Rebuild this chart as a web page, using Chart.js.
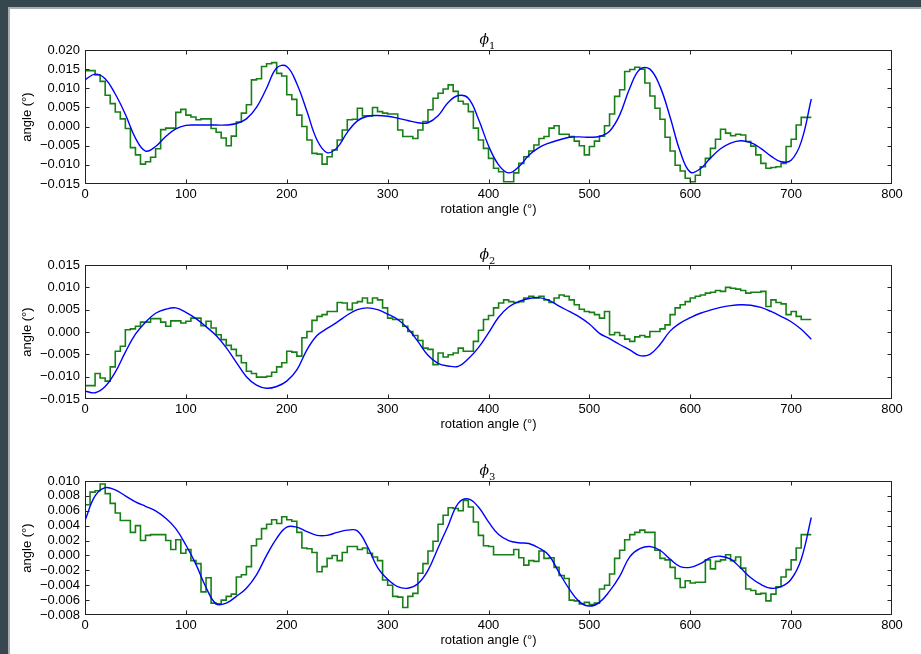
<!DOCTYPE html>
<html>
<head>
<meta charset="utf-8">
<script src="https://cdn.jsdelivr.net/npm/chart.js@4.4.0/dist/chart.umd.min.js"></script>
<style>
  body { margin: 0; background: #37474f; width: 921px; height: 654px; overflow: hidden; position: relative; }
  .sheet { position: absolute; left: 8px; top: 7px; right: 0; bottom: 0; background: #fff; border-left: 2px solid #a9aeb1; border-top: 2px solid #a9aeb1; }
  canvas { position: absolute; left: 0; }
</style>
</head>
<body>
<div class="sheet"></div>
<canvas id="phi1" width="921" height="220" style="top:0px"></canvas>
<canvas id="phi2" width="921" height="220" style="top:215px"></canvas>
<canvas id="phi3" width="921" height="220" style="top:431px"></canvas>
<script>
// rotation angles (deg) of the measured steps and of the fitted curve
const stepAngles = [0,5,10,15,20,25,30,35,40,45,50,55,60,65,70,75,80,85,90,95,
  100,105,110,115,120,125,130,135,140,145,150,155,160,165,170,175,180,185,190,195,
  200,205,210,215,220,225,230,235,240,245,250,255,260,265,270,275,280,285,290,295,
  300,305,310,315,320,325,330,335,340,345,350,355,360,365,370,375,380,385,390,395,
  400,405,410,415,420,425,430,435,440,445,450,455,460,465,470,475,480,485,490,495,
  500,505,510,515,520,525,530,535,540,545,550,555,560,565,570,575,580,585,590,595,
  600,605,610,615,620,625,630,635,640,645,650,655,660,665,670,675,680,685,690,695,
  700,705,710,715,720];
const fitAngles = [0,10,20,30,40,50,60,70,80,90,100,110,120,130,140,150,160,170,180,190,
  200,210,220,230,240,250,260,270,280,290,300,310,320,330,340,350,360,370,380,390,
  400,410,420,430,440,450,460,470,480,490,500,510,520,530,540,550,560,570,580,590,
  600,610,620,630,640,650,660,670,680,690,700,710,720];

// phi1
const phi1Steps = [0.0150,0.0146,0.0146,0.0135,0.0118,0.0082,0.0060,0.0038,0.0020,-0.0005,
  -0.0055,-0.0074,-0.0098,-0.0092,-0.0080,-0.0058,-0.0008,-0.0004,-0.0004,0.0037,
  0.0045,0.0030,0.0025,0.0018,0.0020,0.0020,-0.0005,-0.0015,-0.0030,-0.0050,
  -0.0025,0.0012,0.0035,0.0057,0.0122,0.0125,0.0157,0.0164,0.0167,0.0139,
  0.0132,0.0083,0.0071,0.0030,0.0000,-0.0035,-0.0070,-0.0072,-0.0098,-0.0079,
  -0.0061,-0.0035,-0.0009,0.0018,0.0019,0.0048,0.0028,0.0028,0.0050,0.0039,
  0.0035,0.0033,0.0033,-0.0009,-0.0026,-0.0026,-0.0031,-0.0009,0.0013,0.0044,
  0.0074,0.0087,0.0098,0.0109,0.0092,0.0066,0.0059,0.0039,-0.0004,-0.0035,
  -0.0057,-0.0083,-0.0109,-0.0118,-0.0144,-0.0144,-0.0121,-0.0096,-0.0079,-0.0064,
  -0.0048,-0.0031,-0.0026,-0.0004,0.0002,-0.0020,-0.0020,-0.0026,-0.0038,-0.0050,
  -0.0074,-0.0052,-0.0038,-0.0025,0.0002,0.0033,0.0079,0.0096,0.0144,0.0149,
  0.0155,0.0150,0.0114,0.0080,0.0048,0.0019,-0.0028,-0.0064,-0.0101,-0.0116,
  -0.0135,-0.0144,-0.0127,-0.0105,-0.0083,-0.0057,-0.0033,-0.0007,-0.0017,-0.0024,
  -0.0020,-0.0022,-0.0039,-0.0051,-0.0074,-0.0096,-0.0109,-0.0107,-0.0105,-0.0096,
  -0.0052,-0.0033,0.0004,0.0024,0.0024];
const phi1Fit = [0.0122,0.0137,0.0125,0.0085,0.0032,-0.0030,-0.0064,-0.0052,-0.0026,-0.0006,
  0.0003,0.0004,0.0004,0.0004,0.0004,0.0008,0.0020,0.0050,0.0100,0.0153,
  0.0157,0.0112,0.0040,-0.0035,-0.0068,-0.0055,-0.0015,0.0015,0.0027,0.0029,
  0.0027,0.0022,0.0016,0.0010,0.0010,0.0028,0.0063,0.0081,0.0074,0.0020,
  -0.0050,-0.0100,-0.0121,-0.0105,-0.0075,-0.0055,-0.0043,-0.0035,-0.0028,-0.0027,
  -0.0028,-0.0026,-0.0012,0.0030,0.0100,0.0150,0.0150,0.0105,0.0025,-0.0065,
  -0.0119,-0.0110,-0.0082,-0.0058,-0.0043,-0.0037,-0.0042,-0.0057,-0.0077,-0.0092,
  -0.0088,-0.0040,0.0072];

// phi2
const phi2Steps = [-0.0120,-0.0120,-0.0120,-0.0093,-0.0103,-0.0110,-0.0078,-0.0043,-0.0032,0.0005,
  0.0007,0.0013,0.0022,0.0022,0.0030,0.0030,0.0022,0.0013,0.0025,0.0025,
  0.0020,0.0024,0.0031,0.0031,0.0014,0.0024,0.0009,-0.0006,-0.0017,-0.0030,
  -0.0039,-0.0053,-0.0069,-0.0088,-0.0093,-0.0101,-0.0101,-0.0099,-0.0090,-0.0078,
  -0.0069,-0.0043,-0.0045,-0.0054,-0.0013,0.0001,0.0026,0.0035,0.0039,0.0046,
  0.0046,0.0066,0.0065,0.0050,0.0065,0.0068,0.0076,0.0065,0.0076,0.0072,
  0.0054,0.0031,0.0028,0.0028,0.0013,0.0001,-0.0008,-0.0019,-0.0036,-0.0039,
  -0.0073,-0.0047,-0.0056,-0.0051,-0.0047,-0.0036,-0.0043,-0.0043,-0.0021,0.0004,
  0.0028,0.0037,0.0054,0.0065,0.0072,0.0068,0.0066,0.0068,0.0076,0.0080,
  0.0076,0.0080,0.0072,0.0066,0.0076,0.0083,0.0080,0.0072,0.0061,0.0051,
  0.0046,0.0044,0.0039,0.0031,0.0046,-0.0006,-0.0001,-0.0008,-0.0016,-0.0021,
  -0.0011,-0.0008,-0.0011,0.0001,0.0001,0.0007,0.0016,0.0039,0.0054,0.0061,
  0.0068,0.0076,0.0080,0.0083,0.0087,0.0089,0.0093,0.0091,0.0100,0.0098,
  0.0096,0.0093,0.0087,0.0089,0.0089,0.0091,0.0057,0.0072,0.0066,0.0063,
  0.0039,0.0046,0.0035,0.0028,0.0028];
const phi2Fit = [-0.0132,-0.0136,-0.0122,-0.0090,-0.0045,-0.0005,0.0022,0.0042,0.0051,0.0054,
  0.0044,0.0030,0.0012,-0.0008,-0.0035,-0.0068,-0.0100,-0.0119,-0.0126,-0.0122,
  -0.0110,-0.0085,-0.0040,-0.0008,0.0008,0.0022,0.0038,0.0050,0.0054,0.0050,
  0.0040,0.0028,0.0008,-0.0021,-0.0052,-0.0070,-0.0076,-0.0077,-0.0060,-0.0035,
  -0.0002,0.0033,0.0056,0.0068,0.0075,0.0077,0.0071,0.0058,0.0046,0.0034,
  0.0018,-0.0003,-0.0015,-0.0028,-0.0040,-0.0053,-0.0050,-0.0028,0.0002,0.0020,
  0.0032,0.0042,0.0049,0.0055,0.0059,0.0061,0.0060,0.0055,0.0046,0.0035,
  0.0023,0.0006,-0.0016];

// phi3
const phi3Steps = [0.0056,0.0068,0.0085,0.0087,0.0096,0.0083,0.0070,0.0057,0.0047,0.0047,
  0.0031,0.0040,0.0020,0.0027,0.0028,0.0028,0.0028,0.0020,0.0008,0.0021,
  0.0003,0.0008,-0.0007,-0.0011,-0.0049,-0.0030,-0.0064,-0.0065,-0.0060,-0.0055,
  -0.0052,-0.0029,-0.0026,-0.0015,0.0013,0.0022,0.0036,0.0042,0.0048,0.0043,
  0.0052,0.0048,0.0046,0.0031,0.0010,0.0009,0.0004,-0.0022,-0.0015,-0.0004,
  0.0000,-0.0007,0.0004,0.0012,0.0012,0.0008,0.0010,0.0003,-0.0002,-0.0007,
  -0.0033,-0.0040,-0.0055,-0.0056,-0.0070,-0.0055,-0.0051,-0.0024,-0.0011,0.0006,
  0.0019,0.0042,0.0054,0.0064,0.0063,0.0060,0.0074,0.0065,0.0045,0.0027,
  0.0013,0.0012,0.0001,0.0001,0.0001,0.0001,0.0008,-0.0003,-0.0013,-0.0007,
  -0.0008,0.0006,-0.0004,-0.0003,-0.0016,-0.0027,-0.0031,-0.0060,-0.0061,-0.0065,
  -0.0063,-0.0066,-0.0064,-0.0045,-0.0040,-0.0025,-0.0004,0.0007,0.0021,0.0028,
  0.0031,0.0034,0.0031,0.0031,0.0007,-0.0004,-0.0006,-0.0016,-0.0031,-0.0043,
  -0.0034,-0.0037,-0.0036,-0.0036,-0.0006,-0.0018,-0.0008,-0.0006,0.0001,-0.0007,
  -0.0002,-0.0017,-0.0045,-0.0047,-0.0052,-0.0051,-0.0061,-0.0052,-0.0042,-0.0029,
  -0.0019,-0.0006,0.0010,0.0028,0.0028];
const phi3Fit = [0.0047,0.0080,0.0091,0.0088,0.0080,0.0072,0.0066,0.0060,0.0050,0.0036,
  0.0014,-0.0012,-0.0043,-0.0065,-0.0064,-0.0055,-0.0044,-0.0026,0.0000,0.0023,
  0.0038,0.0038,0.0032,0.0027,0.0027,0.0031,0.0034,0.0033,0.0012,-0.0016,
  -0.0032,-0.0042,-0.0044,-0.0038,-0.0020,0.0010,0.0040,0.0070,0.0076,0.0065,
  0.0045,0.0028,0.0020,0.0017,0.0016,0.0010,0.0000,-0.0023,-0.0045,-0.0062,
  -0.0068,-0.0063,-0.0048,-0.0028,-0.0002,0.0009,0.0012,0.0007,-0.0005,-0.0015,
  -0.0016,-0.0011,-0.0003,-0.0001,-0.0005,-0.0017,-0.0030,-0.0039,-0.0044,-0.0042,
  -0.0032,-0.0005,0.0051];

const xTicksStep = 100;
const FONT = 'Liberation Sans';

// matplotlib style: frame round the axes, ticks pointing inwards on all four sides
const framePlugin = {
  id: 'frame',
  afterDraw(chart) {
    const {ctx, chartArea: a, scales} = chart;
    const len = 4;
    const L = a.left + 0.5, R = a.right - 0.5, T = a.top + 0.5, B = a.bottom - 0.5;
    ctx.save();
    ctx.strokeStyle = '#222';
    ctx.lineWidth = 1;
    ctx.strokeRect(L, T, R - L, B - T);
    ctx.beginPath();
    scales.x.ticks.forEach(t => {
      const px = Math.min(R, Math.max(L, Math.round(scales.x.getPixelForValue(t.value)) + 0.5));
      ctx.moveTo(px, B); ctx.lineTo(px, B - len);
      ctx.moveTo(px, T); ctx.lineTo(px, T + len);
    });
    scales.y.ticks.forEach(t => {
      const py = Math.min(B, Math.max(T, Math.round(scales.y.getPixelForValue(t.value)) + 0.5));
      ctx.moveTo(L, py); ctx.lineTo(L + len, py);
      ctx.moveTo(R, py); ctx.lineTo(R - len, py);
    });
    ctx.stroke();
    ctx.restore();
  }
};

// title like $\phi_n$
const titlePlugin = {
  id: 'panelTitle',
  afterDraw(chart, args, opts) {
    const {ctx, chartArea: a} = chart;
    const cx = (a.left + a.right) / 2;
    ctx.save();
    ctx.fillStyle = '#000';
    ctx.textAlign = 'left';
    ctx.textBaseline = 'alphabetic';
    ctx.font = 'italic 14px "DejaVu Serif"';
    ctx.fillText('\u03d5', cx - 9, a.top - 6);
    ctx.font = '10px "DejaVu Serif"';
    ctx.fillText(opts.sub, cx + 0.5, a.top - 1);
    ctx.restore();
  }
};

function fmtY(v) {
  if (Math.abs(v) < 1e-9) return '0.000';
  return v.toFixed(3).replace('-', '\u2212');
}

function makePanel(id, sub, steps, fit, yMin, yMax, yStep) {
  new Chart(document.getElementById(id), {
    type: 'line',
    data: {
      datasets: [
        { data: fitAngles.map((a, i) => ({x: a, y: fit[i]})),
          borderColor: '#0000ff', borderWidth: 1.4, pointRadius: 0, tension: 0.4 },
        { data: stepAngles.map((a, i) => ({x: a, y: steps[i]})),
          borderColor: '#168016', borderWidth: 1.6, pointRadius: 0, stepped: 'after' }
      ]
    },
    options: {
      responsive: false,
      animation: false,
      events: [],
      layout: { padding: { top: 50, left: 5, right: 29, bottom: 0 } },
      plugins: {
        legend: { display: false },
        tooltip: { enabled: false },
        panelTitle: { sub: sub }
      },
      scales: {
        x: {
          type: 'linear', min: 0, max: 800,
          grid: { display: false, drawTicks: false }, border: { display: false },
          ticks: { stepSize: xTicksStep, padding: 3, autoSkip: false, maxRotation: 0, color: '#000', font: { family: FONT, size: 13 } },
          title: { display: true, text: 'rotation angle (°)', color: '#000', font: { family: FONT, size: 13 }, padding: { top: 0, bottom: 3 } },
          afterFit: s => { s.height = 36; }
        },
        y: {
          min: yMin, max: yMax,
          grid: { display: false, drawTicks: false }, border: { display: false },
          ticks: { stepSize: yStep, padding: 5, autoSkip: false, color: '#000', font: { family: FONT, size: 13 }, callback: fmtY },
          title: { display: true, text: 'angle (°)', color: '#000', font: { family: FONT, size: 13 }, padding: { top: 15, bottom: 0 } },
          afterFit: s => { s.width = 80; }
        }
      }
    },
    plugins: [framePlugin, titlePlugin]
  });
}

makePanel('phi1', '1', phi1Steps, phi1Fit, -0.015, 0.020, 0.005);
makePanel('phi2', '2', phi2Steps, phi2Fit, -0.015, 0.015, 0.005);
makePanel('phi3', '3', phi3Steps, phi3Fit, -0.008, 0.010, 0.002);
</script>
</body>
</html>
